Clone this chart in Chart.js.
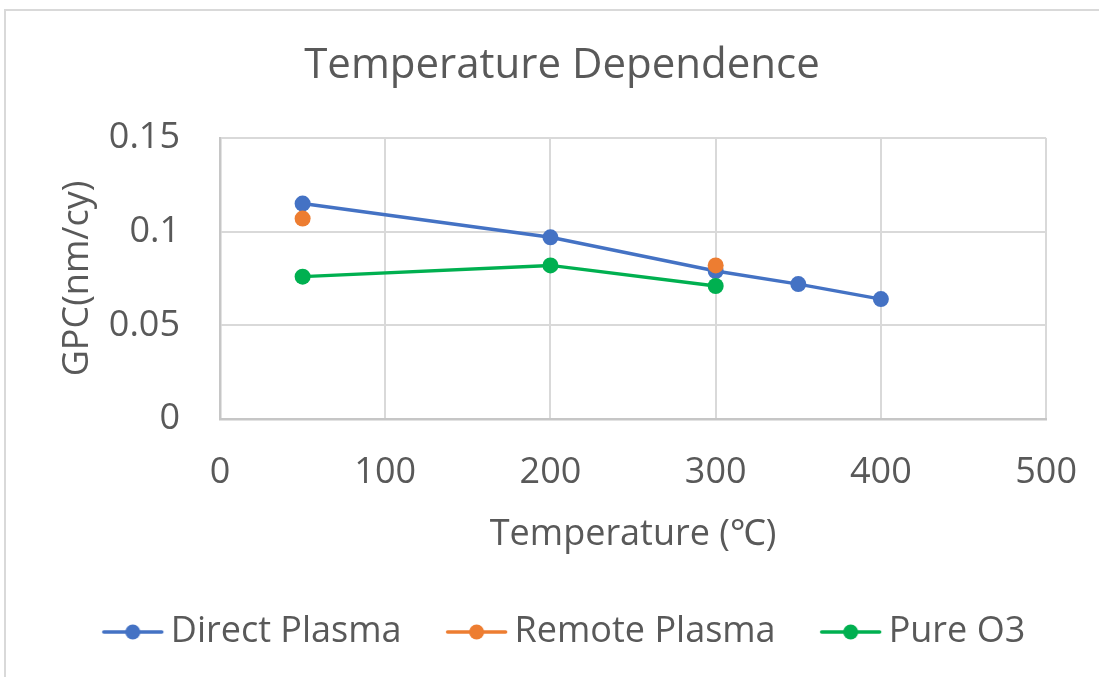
<!DOCTYPE html>
<html>
<head>
<meta charset="utf-8">
<script src="https://cdn.jsdelivr.net/npm/chart.js@4/dist/chart.umd.min.js"></script>
<style>
  html, body { margin: 0; padding: 0; background: #ffffff; }
  #wrap { position: relative; width: 1099px; height: 677px; overflow: hidden; }
  #frame { position: absolute; left: 4px; top: 9px; width: 1200px; height: 800px;
           border-left: 2px solid #d9d9d9; border-top: 2px solid #d9d9d9; }
  #c { position: absolute; left: 0; top: 0; }
</style>
</head>
<body>
<div id="wrap">
  <div id="frame"></div>
  <canvas id="c" width="1099" height="677"></canvas>
</div>
<script>
// Growth per cycle versus deposition temperature
const directTemp = [50, 200, 300, 350, 400];
const directGPC  = [0.115, 0.097, 0.079, 0.072, 0.064];

const remoteTemp = [50, 200, 300];
const remoteGPC  = [0.107, null, 0.082];

const o3Temp = [50, 200, 300];
const o3GPC  = [0.076, 0.082, 0.071];

const seriesNames = ['Direct Plasma', 'Remote Plasma', 'Pure O3'];
const seriesColors = ['#4472C4', '#ED7D31', '#00B050'];

const xTicks = [0, 100, 200, 300, 400, 500];
const yTicks = [0, 0.05, 0.1, 0.15];

const FONT = '"Open Sans", "Noto Sans", sans-serif';
const TEXT = '#595959';

function pairs(xs, ys) {
  return xs.map((x, i) => ({ x: x, y: ys[i] }));
}

// Legend swatch: a short line with a dot in the middle.
// The image is wider than the swatch so the swatch sits flush with the item start.
const SWATCH_BOX = 51;
function swatch(color) {
  const w = 80, h = 20, len = 62;
  const off = w / 2 - SWATCH_BOX / 2;
  const c = document.createElement('canvas');
  c.width = w; c.height = h;
  const g = c.getContext('2d');
  g.strokeStyle = color;
  g.lineWidth = 3.5;
  g.lineCap = 'round';
  g.beginPath(); g.moveTo(off + 2, h / 2); g.lineTo(off + len - 2, h / 2); g.stroke();
  g.fillStyle = color;
  g.beginPath(); g.arc(off + len / 2, h / 2, 7.5, 0, Math.PI * 2); g.fill();
  return c;
}

// The chart frame extends a little past the right edge of the canvas,
// so the title and legend are centred slightly right of the canvas centre.
const frameShift = {
  id: 'frameShift',
  afterLayout(chart) {
    const t = chart.titleBlock, l = chart.legend;
    if (t) { t.left += 12.5; t.right += 12.5; }
    if (l) { l.left += 14; l.right += 14; }
  }
};

const seriesData = [
  pairs(directTemp, directGPC),
  pairs(remoteTemp, remoteGPC),
  pairs(o3Temp, o3GPC)
];

const datasets = seriesData.map((d, i) => ({
  label: seriesNames[i],
  data: d,
  borderColor: seriesColors[i],
  backgroundColor: seriesColors[i],
  borderWidth: 3.5,
  pointRadius: 8,
  pointHoverRadius: 8,
  pointBorderWidth: 0,
  pointStyle: 'circle',
  showLine: true,
  spanGaps: false,
  tension: 0,
  order: 3 - i
}));

new Chart(document.getElementById('c'), {
  type: 'scatter',
  data: { datasets: datasets },
  plugins: [frameShift],
  options: {
    responsive: false,
    animation: false,
    events: [],
    layout: { padding: { left: 0, right: 0, top: 0, bottom: 17 } },
    plugins: {
      tooltip: { enabled: false },
      title: {
        display: true,
        text: 'Temperature Dependence',
        color: TEXT,
        font: { family: FONT, size: 42, weight: 'normal', lineHeight: 1.2 },
        padding: { top: 41, bottom: 46.6 }
      },
      legend: {
        display: true,
        position: 'bottom',
        labels: {
          color: TEXT,
          font: { family: FONT, size: 36 },
          usePointStyle: true,
          pointStyleWidth: SWATCH_BOX,
          padding: 44,
          sort: (a, b) => a.datasetIndex - b.datasetIndex,
          generateLabels: (chart) => chart.data.datasets.map((ds, i) => ({
            text: ds.label,
            fillStyle: ds.backgroundColor,
            strokeStyle: ds.borderColor,
            lineWidth: 0,
            pointStyle: swatch(ds.borderColor),
            hidden: false,
            datasetIndex: i,
            fontColor: TEXT
          }))
        }
      }
    },
    scales: {
      x: {
        type: 'linear',
        min: xTicks[0],
        max: xTicks[xTicks.length - 1],
        afterFit: (s) => { s.height = 151; },
        afterBuildTicks: (s) => { s.ticks = xTicks.map(v => ({ value: v })); },
        ticks: {
          color: TEXT,
          font: { family: FONT, size: 36 },
          padding: 22,
          maxRotation: 0,
          callback: (v) => String(v)
        },
        grid: { color: '#d9d9d9', lineWidth: 2, drawTicks: true, tickLength: 10, tickColor: 'rgba(0,0,0,0)' },
        border: { color: '#c6c6c6', width: 2.5 },
        title: {
          display: true,
          text: 'Temperature (℃)',
          color: TEXT,
          font: { family: FONT, size: 36, lineHeight: 1.2 },
          padding: { top: 0, bottom: 13.4 }
        }
      },
      y: {
        type: 'linear',
        min: yTicks[0],
        max: yTicks[yTicks.length - 1],
        afterFit: (s) => { s.width = 220; },
        afterBuildTicks: (s) => { s.ticks = yTicks.map(v => ({ value: v })); },
        ticks: {
          color: TEXT,
          font: { family: FONT, size: 36 },
          padding: 40,
          callback: (v) => String(Math.round(v * 100) / 100)
        },
        grid: { color: '#d9d9d9', lineWidth: 2, drawTicks: false },
        border: { color: '#c6c6c6', width: 2.5 },
        title: {
          display: true,
          text: 'GPC(nm/cy)',
          color: TEXT,
          font: { family: FONT, size: 36, lineHeight: 1.2 },
          padding: { top: 56.4, bottom: 0 }
        }
      }
    }
  }
});
</script>
</body>
</html>
